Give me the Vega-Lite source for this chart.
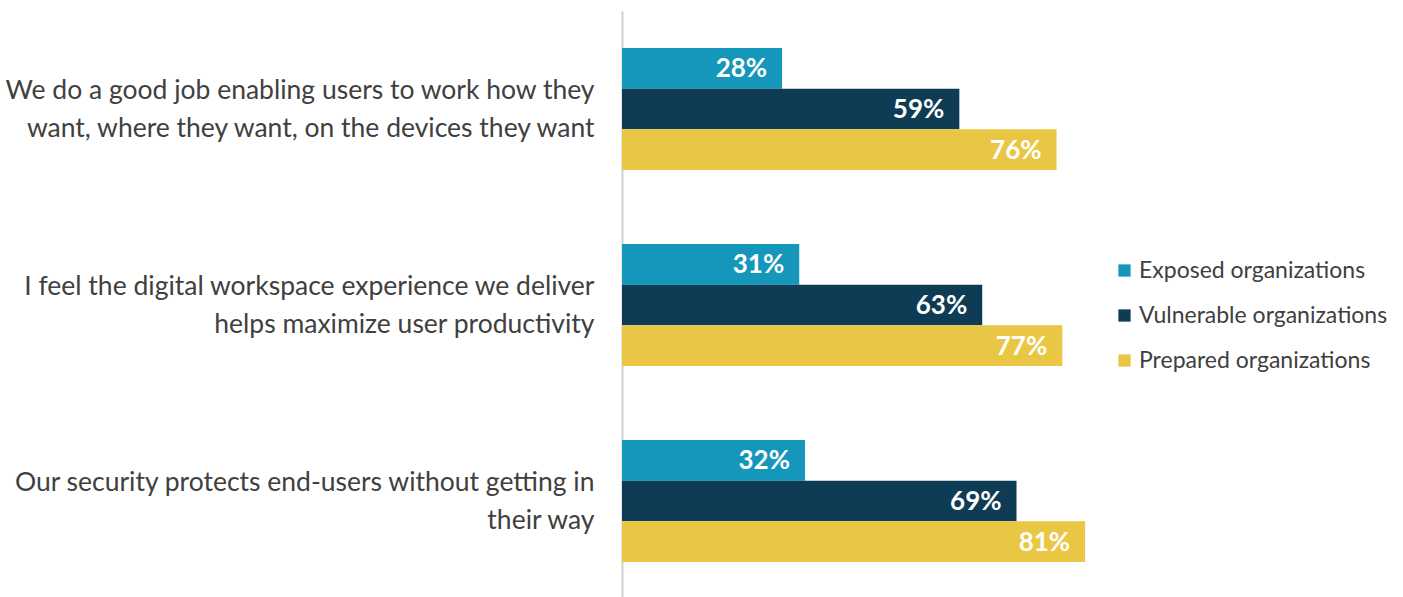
{
  "$schema": "https://vega.github.io/schema/vega-lite/v6.json",
  "autosize": "none",
  "width": 486,
  "height": 588,
  "padding": {"left": 622, "top": 11, "right": 295, "bottom": 0},
  "background": "white",
  "config": {"view": {"stroke": null}, "font": "Lato"},
  "data": {"values": [
    {"q": "We do a good job enabling users to work how they|want, where they want, on the devices they want", "s": "Exposed organizations", "v": 0.28},
    {"q": "We do a good job enabling users to work how they|want, where they want, on the devices they want", "s": "Vulnerable organizations", "v": 0.59},
    {"q": "We do a good job enabling users to work how they|want, where they want, on the devices they want", "s": "Prepared organizations", "v": 0.76},
    {"q": "I feel the digital workspace experience we deliver|helps maximize user productivity", "s": "Exposed organizations", "v": 0.31},
    {"q": "I feel the digital workspace experience we deliver|helps maximize user productivity", "s": "Vulnerable organizations", "v": 0.63},
    {"q": "I feel the digital workspace experience we deliver|helps maximize user productivity", "s": "Prepared organizations", "v": 0.77},
    {"q": "Our security protects end-users without getting in|their way", "s": "Exposed organizations", "v": 0.32},
    {"q": "Our security protects end-users without getting in|their way", "s": "Vulnerable organizations", "v": 0.69},
    {"q": "Our security protects end-users without getting in|their way", "s": "Prepared organizations", "v": 0.81}
  ]},
  "encoding": {
    "y": {"field": "q", "type": "nominal", "sort": null,
      "scale": {"paddingInner": 0.378, "paddingOuter": 0.189},
      "axis": {"title": null, "ticks": false, "domainColor": "#d0d0d0", "domainWidth": 2,
        "labelExpr": "split(datum.label, '|')", "labelFont": "Lato", "labelFontSize": 26.5,
        "labelColor": "#404040", "labelPadding": 28, "labelLineHeight": 38, "labelOffset": -18, "labelLimit": 700}},
    "yOffset": {"field": "s", "type": "nominal", "sort": ["Exposed organizations", "Vulnerable organizations", "Prepared organizations"],
      "scale": {"paddingInner": 0, "paddingOuter": 0}},
    "x": {"field": "v", "type": "quantitative", "scale": {"domain": [0, 0.85]}, "axis": null}
  },
  "layer": [
    {"mark": {"type": "bar"},
      "encoding": {"color": {"field": "s", "type": "nominal",
        "sort": ["Exposed organizations", "Vulnerable organizations", "Prepared organizations"],
        "scale": {"domain": ["Exposed organizations", "Vulnerable organizations", "Prepared organizations"], "range": ["#1596bb", "#0e3c54", "#e9c744"]},
        "legend": {"title": null, "orient": "none", "legendX": 491, "legendY": 248,
          "symbolType": "square", "symbolSize": 150, "symbolStrokeWidth": 0,
          "labelFont": "Lato", "labelFontSize": 23, "labelColor": "#404040", "rowPadding": 21, "labelOffset": 3, "labelLimit": 400}}}},
    {"mark": {"type": "text", "align": "right", "dx": -15, "dy": 1, "color": "white", "fontWeight": "bold", "fontSize": 26, "font": "Lato", "baseline": "middle"},
      "encoding": {"text": {"field": "v", "type": "quantitative", "format": ".0%"}, "detail": {"field": "s"}}}
  ]
}
